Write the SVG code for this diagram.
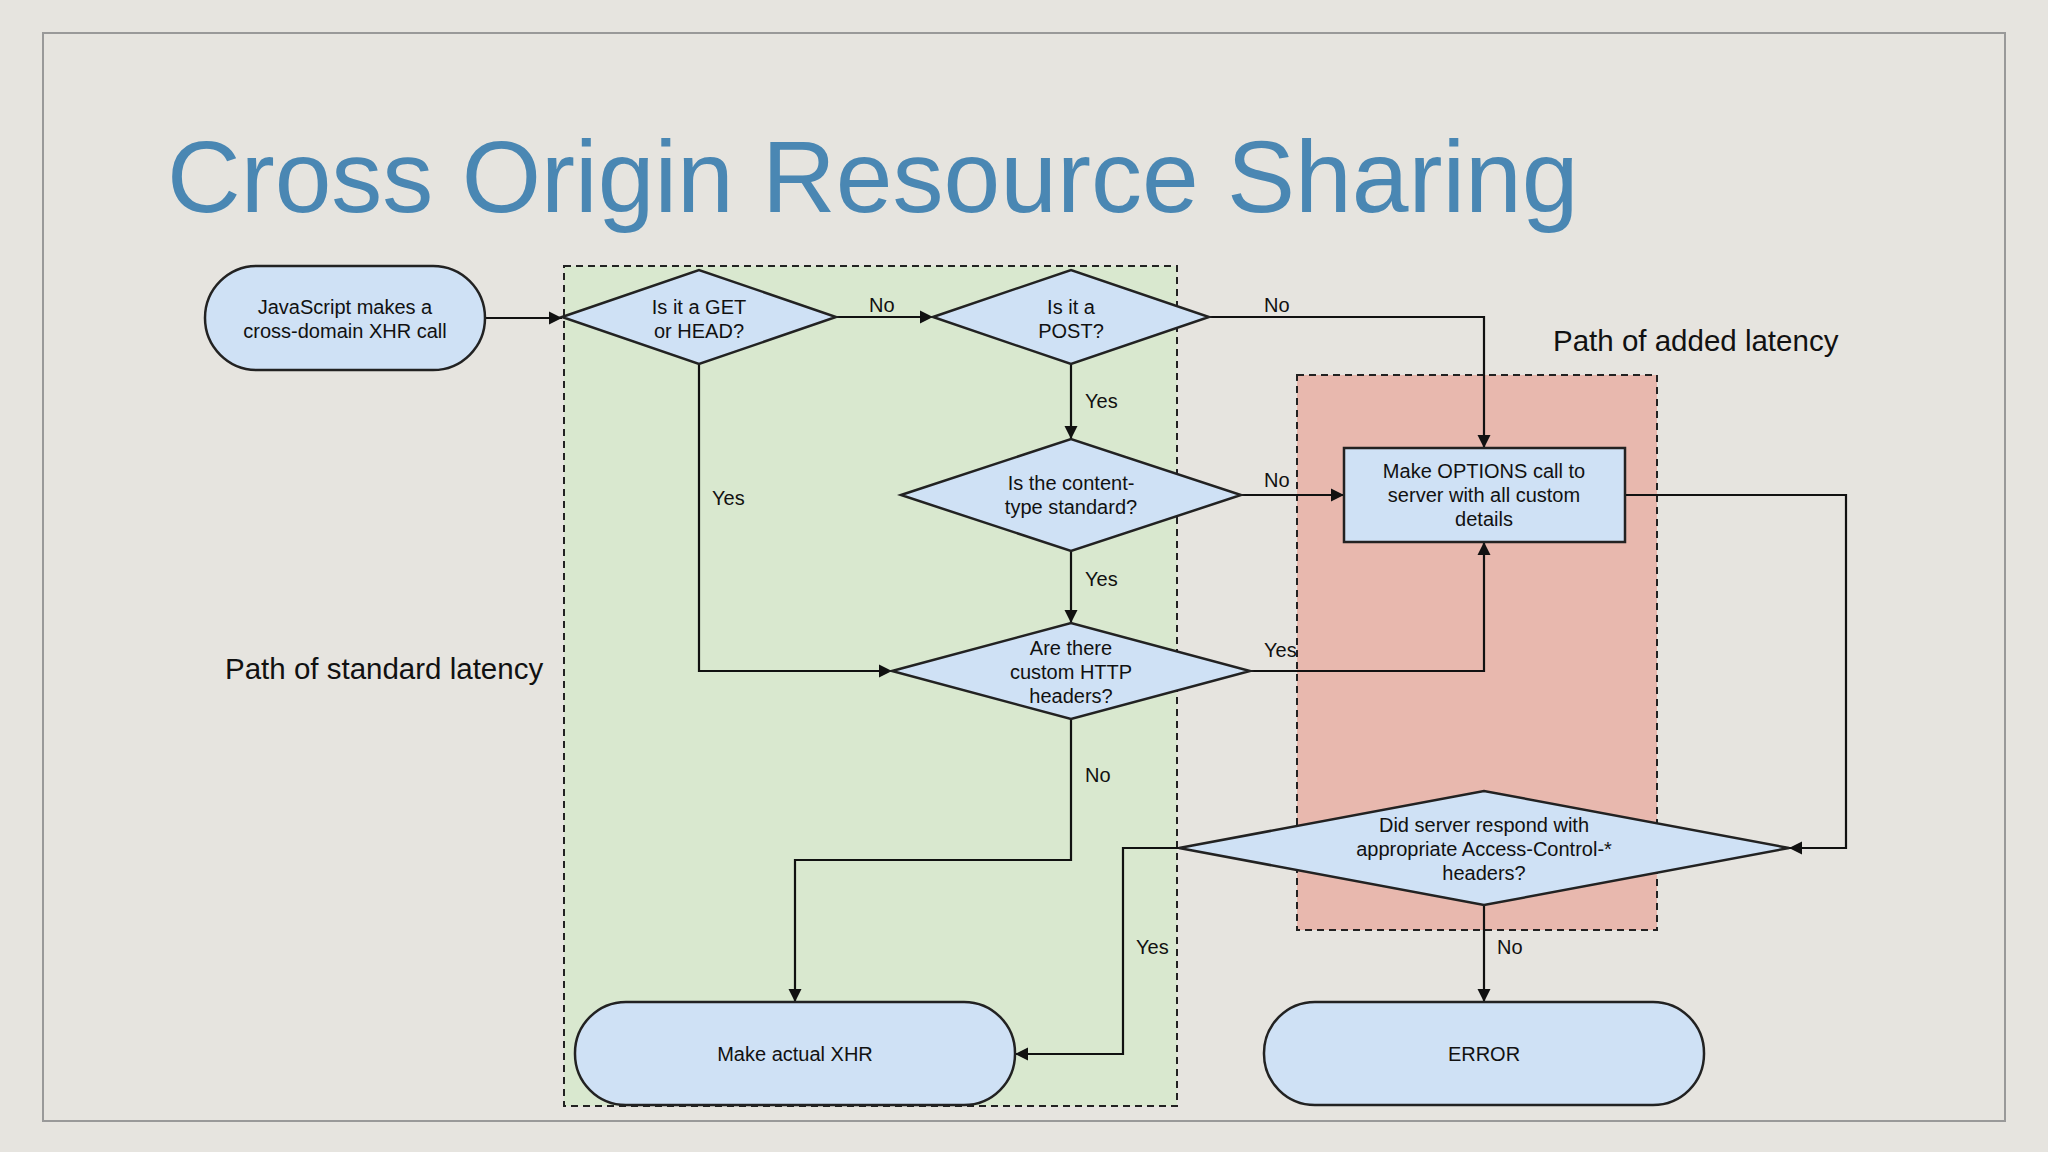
<svg xmlns="http://www.w3.org/2000/svg" width="2048" height="1152" viewBox="0 0 2048 1152">
<style>
.n{fill:#cfe1f5;stroke:#222;stroke-width:2.5}
.t{font-family:"Liberation Sans",Arial,sans-serif;font-size:20px;fill:#111;text-anchor:middle}
.l{font-family:"Liberation Sans",Arial,sans-serif;font-size:20px;fill:#111}
.c{fill:none;stroke:#111;stroke-width:2.2;marker-end:url(#a)}
.p{font-family:"Liberation Sans",Arial,sans-serif;font-size:29.5px;fill:#111}
</style>
<defs><marker id="a" viewBox="0 0 10 10" refX="10" refY="5" markerWidth="6" markerHeight="6" orient="auto"><path d="M0,0L10,5L0,10z" fill="#111"/></marker></defs>
<rect width="2048" height="1152" fill="#e6e4df"/>
<rect x="43" y="33" width="1962" height="1088" fill="none" stroke="#999" stroke-width="2"/>
<text x="167" y="212" font-family="'Liberation Sans',Arial,sans-serif" font-size="102" fill="#4a87b3">Cross Origin Resource Sharing</text>
<rect x="564" y="266" width="613" height="840" fill="#d9e8cf" stroke="#222" stroke-width="2" stroke-dasharray="7,5"/>
<rect x="1297" y="375" width="360" height="555" fill="#e8b8ae" stroke="#222" stroke-width="2" stroke-dasharray="7,5"/>
<text class="p" x="1553" y="351">Path of added latency</text>
<text class="p" x="225" y="679">Path of standard latency</text>
<g id="connectors">
<path class="c" d="M485,318H562"/>
<path class="c" d="M836,317H933"/>
<path class="c" d="M1209,317H1484V448"/>
<path class="c" d="M1071,364V439"/>
<path class="c" d="M1241,495H1344"/>
<path class="c" d="M1071,551V623"/>
<path class="c" d="M699,364V671H892"/>
<path class="c" d="M1250,671H1484V542"/>
<path class="c" d="M1625,495H1846V848H1789"/>
<path class="c" d="M1071,719V860H795V1002"/>
<path class="c" d="M1179,848H1123V1054H1015"/>
<path class="c" d="M1484,905V1002"/>
<text class="l" x="869" y="312">No</text>
<text class="l" x="1264" y="312">No</text>
<text class="l" x="1085" y="408">Yes</text>
<text class="l" x="1264" y="487">No</text>
<text class="l" x="1085" y="586">Yes</text>
<text class="l" x="712" y="505">Yes</text>
<text class="l" x="1264" y="657">Yes</text>
<text class="l" x="1085" y="782">No</text>
<text class="l" x="1136" y="954">Yes</text>
<text class="l" x="1497" y="954">No</text>
</g>
<g id="start"><rect class="n" x="205" y="266" width="280" height="104" rx="52"/><text class="t" x="345" y="314">JavaScript makes a</text><text class="t" x="345" y="338">cross-domain XHR call</text></g>
<g id="d1"><polygon class="n" points="562,317 699,270 836,317 699,364"/><text class="t" x="699" y="314">Is it a GET</text><text class="t" x="699" y="338">or HEAD?</text></g>
<g id="d2"><polygon class="n" points="933,317 1071,270 1209,317 1071,364"/><text class="t" x="1071" y="314">Is it a</text><text class="t" x="1071" y="338">POST?</text></g>
<g id="d3"><polygon class="n" points="901,495 1071,439 1241,495 1071,551"/><text class="t" x="1071" y="490">Is the content-</text><text class="t" x="1071" y="514">type standard?</text></g>
<g id="d4"><polygon class="n" points="892,671 1071,623 1250,671 1071,719"/><text class="t" x="1071" y="655">Are there</text><text class="t" x="1071" y="679">custom HTTP</text><text class="t" x="1071" y="703">headers?</text></g>
<g id="options"><rect class="n" x="1344" y="448" width="281" height="94"/><text class="t" x="1484" y="478">Make OPTIONS call to</text><text class="t" x="1484" y="502">server with all custom</text><text class="t" x="1484" y="526">details</text></g>
<g id="d5"><polygon class="n" points="1179,848 1484,791 1789,848 1484,905"/><text class="t" x="1484" y="832">Did server respond with</text><text class="t" x="1484" y="856">appropriate Access-Control-*</text><text class="t" x="1484" y="880">headers?</text></g>
<g id="xhr"><rect class="n" x="575" y="1002" width="440" height="103" rx="51"/><text class="t" x="795" y="1061">Make actual XHR</text></g>
<g id="error"><rect class="n" x="1264" y="1002" width="440" height="103" rx="51"/><text class="t" x="1484" y="1061">ERROR</text></g>
</svg>
